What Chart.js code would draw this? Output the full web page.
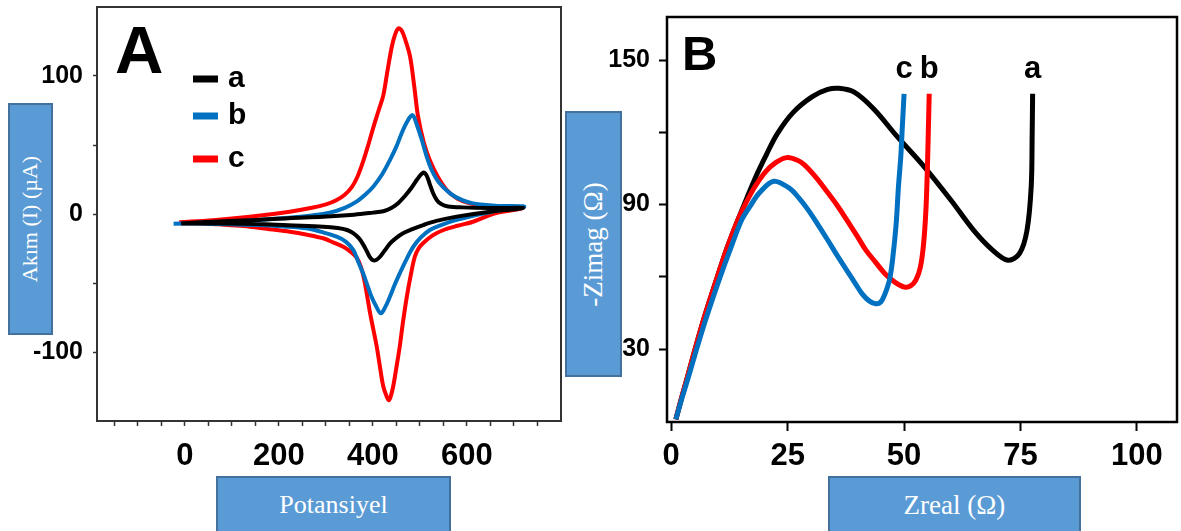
<!DOCTYPE html>
<html>
<head>
<meta charset="utf-8">
<title>CV ve EIS</title>
<script src="https://cdn.jsdelivr.net/npm/chart.js@4.4.1/dist/chart.umd.min.js"></script>
<style>
  html, body { margin: 0; padding: 0; background: #fff; }
  #stage { position: relative; width: 1181px; height: 531px; overflow: hidden; }
  canvas { position: absolute; top: 0; }
  .tag {
    position: absolute; box-sizing: border-box;
    background: #5b9bd5; border: 2px solid #41719c; color: #fff;
    font-family: "Liberation Serif", "Times New Roman", serif;
    display: flex; align-items: center; justify-content: center; white-space: nowrap;
  }
  .tag.v span { display: inline-block; transform: rotate(-90deg); }
</style>
</head>
<body>
<div id="stage">
  <div class="tag v" style="left:8px;top:103px;width:45px;height:232px;font-size:22px;"><span>Akım (I) (µA)</span></div>
  <div class="tag" style="left:216px;top:476px;width:235px;height:58px;font-size:26px;">Potansiyel</div>
  <div class="tag v" style="left:565px;top:111px;width:57px;height:266px;font-size:27px;"><span>-Zimag (Ω)</span></div>
  <div class="tag" style="left:828px;top:476px;width:253px;height:58px;font-size:27px;">Zreal (Ω)</div>
  <canvas id="cvChart" width="568" height="531" style="left:0;"></canvas>
  <canvas id="eisChart" width="611" height="531" style="left:570px;"></canvas>
</div>
<script>
// --- A: cyclic voltammograms (potential / current) ---
const cvPotA = [-8, 60, 153, 220, 294, 360, 400, 422, 440, 454, 468, 482, 495, 507, 514, 521, 528, 536, 546, 560, 590, 650, 720,
                649, 578, 535, 507, 484, 464, 449, 436, 425, 415, 407, 400, 393, 387, 379, 370, 358, 345, 325, 294, 220, 153, 60, -8];
const cvCurA = [-6.8, -5.6, -4.3, -3, -2, -0.5, 1, 2, 4.5, 8, 13, 19, 25.5, 30, 28, 21.5, 15, 10, 7, 5.5, 4.8, 4.3, 4.3,
                1.7, -1.9, -5, -8, -11, -14, -17.5, -21.5, -26.5, -31, -33.3, -33.5, -31, -27, -22, -17.5, -13.8, -11.6, -10.2, -9.2, -8.2, -7.2, -6.9, -6.8];

const cvPotB = [-24, 60, 153, 220, 270, 308, 340, 365, 385, 401, 420, 436, 450, 461, 472, 484, 494, 504, 514, 525, 540, 564, 590, 613, 660, 722,
                650, 578, 545, 521, 502, 486, 471, 457, 446, 436, 426, 417, 407, 397, 388, 379, 368, 358, 342, 323, 290, 259, 210, 153, 46, -24];
const cvCurB = [-7, -6, -4.5, -2.8, -1, 1, 4.5, 9, 14.5, 20, 29, 39, 49, 58.5, 66.5, 71.7, 64, 53.6, 42, 31.9, 23, 15, 10, 7.7, 6, 5.3,
                1.5, -4.3, -8, -11.6, -17, -23.7, -33, -43, -51.5, -60, -67.5, -72, -67, -60, -51.5, -43, -34, -26, -20, -16.4, -13, -10.4, -9, -8, -7, -7];

const cvPotC = [-12, 60, 138, 223, 270, 300, 322, 340, 355, 367, 379, 390, 401, 412, 422, 431, 440, 447, 454, 461, 469, 479, 488, 496, 508, 521, 538, 557, 580, 606, 663, 718,
                660, 613, 580, 550, 527, 507, 497, 489, 480, 472, 464, 457, 450, 443, 438, 434, 429, 422, 415, 408, 401, 394, 387, 381, 374, 366, 355, 337, 315, 294, 260, 223, 180, 138, 90, 46, -12];
const cvCurC = [-6, -4.5, -2, 1.7, 4.5, 7, 10, 14, 19.5, 27, 38, 50, 63, 75, 86, 104, 121, 130, 134.5, 133, 126, 114, 92, 70.5, 52, 39, 27, 17.4, 11, 7.7, 4.1, 4,
                0.5, -5.6, -8.5, -11.6, -15.5, -21, -25, -31, -45, -60, -78, -96, -111, -125, -132, -135, -132, -125, -111, -96, -84, -72, -58, -47, -38, -32, -28, -23.7, -20.5, -17.6, -15, -12.8, -11, -9.2, -8, -6.8, -6];

const cvXTicks = [-150, -100, -50, 0, 50, 100, 150, 200, 250, 300, 350, 400, 450, 500, 550, 600, 650, 700, 750];
const cvXLabels = [0, 200, 400, 600];
const cvYTicks = [-100, -50, 0, 50, 100];
const cvYLabels = [-100, 0, 100];

// --- B: Nyquist plots (Zreal / -Zimag) ---
const eisReA = [1, 2.2, 3.5, 5, 6.5, 8.2, 9.9, 12, 14.3, 16.3, 18.6, 20.5, 22.8, 26.2, 30.3, 33.6, 36, 39.3, 43.5, 48.4, 54.2, 60, 64.9, 69, 72.3, 74.8, 76.4, 77.3, 77.5, 77.6];
const eisImA = [0.8, 9.5, 18.4, 29, 39.2, 49.8, 59.9, 72, 83.5, 93, 103.4, 111, 119.5, 128.3, 134.8, 137.8, 138.3, 136.7, 129.7, 118.5, 106, 92, 79.4, 71.1, 66.9, 69.7, 79.4, 97.6, 118.5, 136];

const eisReB = [1, 2.2, 3.5, 5, 6.5, 8.2, 9.9, 12, 14.3, 16, 18, 20.2, 22.5, 24.8, 27, 28.6, 31, 33.6, 35.7, 37.7, 39.8, 41.8, 43.9, 45.9, 48, 50.1, 51.4, 52.5, 53.5, 54.2, 54.7, 55, 55.2, 55.4];
const eisImB = [0.8, 9.5, 18.4, 29, 39.2, 49.8, 59.9, 72, 83.5, 90.5, 97.5, 103.5, 107.5, 109.5, 108.5, 106.5, 101.5, 95, 89.5, 83.6, 77.3, 71.1, 66, 61.3, 57.8, 55.7, 56.2, 58.5, 64, 73.9, 88, 104.6, 120, 136];

const eisReC = [1, 2.3, 3.7, 5.3, 6.9, 8.7, 10.5, 12.8, 15.1, 17, 19, 22, 25.3, 27.4, 29.4, 31.5, 33.6, 35.6, 37.7, 39.4, 41, 42.5, 43.9, 45, 45.9, 46.9, 47.6, 48.3, 48.8, 49.3, 49.6, 50];
const eisImC = [0.8, 9.5, 18.4, 29, 39.2, 49.8, 59.9, 72, 83.5, 89.5, 95, 99.7, 96.9, 92.8, 87.8, 81.7, 75.3, 69, 62.7, 57.6, 52.9, 50, 48.8, 49.5, 52.9, 59, 68.3, 82, 97.6, 110, 121.3, 136];

const eisXTicks = [0, 25, 50, 75, 100];
const eisYTicks = [30, 60, 90, 120, 150];
const eisYLabels = [30, 90, 150];

const FONT = '"Liberation Sans", Arial, sans-serif';

function toPoints(xs, ys) {
    return xs.map((x, i) => ({ x: x, y: ys[i] }));
}

// full box around the plotting area
const frame = {
    id: 'frame',
    beforeDatasetsDraw(chart, args, opts) {
        const { ctx, chartArea: a } = chart;
        ctx.save();
        ctx.strokeStyle = opts.color;
        ctx.lineWidth = opts.width;
        ctx.strokeRect(a.left, a.top, a.right - a.left, a.bottom - a.top);
        ctx.restore();
    }
};

// big panel letter in the upper-left corner
const panelTag = {
    id: 'panelTag',
    afterDraw(chart, args, o) {
        const { ctx, chartArea: a } = chart;
        ctx.save();
        ctx.fillStyle = '#000';
        ctx.font = `bold ${o.size}px ${FONT}`;
        ctx.textBaseline = 'alphabetic';
        ctx.fillText(o.text, a.left + o.dx, a.top + o.dy);
        ctx.restore();
    }
};

// stacked legend: short thick line + letter
const lineKey = {
    id: 'lineKey',
    afterDatasetsDraw(chart, args, o) {
        if (!o.rows) return;
        const { ctx, chartArea: a } = chart;
        ctx.save();
        chart.data.datasets.forEach((ds, i) => {
            const y = a.top + o.rows[i];
            const x0 = a.left + o.x;
            ctx.strokeStyle = ds.borderColor;
            ctx.lineWidth = 7;
            ctx.beginPath();
            ctx.moveTo(x0, y);
            ctx.lineTo(x0 + 25, y);
            ctx.stroke();
            ctx.fillStyle = '#000';
            ctx.font = `bold 30px ${FONT}`;
            ctx.textBaseline = 'alphabetic';
            ctx.fillText(ds.label, x0 + 35, y + 8);
        });
        ctx.restore();
    }
};

// letter written just above the last point of each curve
const endTag = {
    id: 'endTag',
    afterDatasetsDraw(chart, args, o) {
        if (!o.gap) return;
        const { ctx } = chart;
        ctx.save();
        ctx.fillStyle = '#000';
        ctx.font = `bold 31px ${FONT}`;
        ctx.textAlign = 'center';
        ctx.textBaseline = 'alphabetic';
        chart.data.datasets.forEach((ds, i) => {
            const pts = chart.getDatasetMeta(i).data;
            const p = pts[pts.length - 1];
            ctx.fillText(ds.label, p.x, p.y - o.gap);
        });
        ctx.restore();
    }
};

function curve(label, xs, ys, color, order, width) {
    return {
        label: label,
        data: toPoints(xs, ys),
        borderColor: color,
        backgroundColor: color,
        borderWidth: width,
        showLine: true,
        pointRadius: 0,
        tension: 0.35,
        fill: false,
        order: order
    };
}

function axis(o) {
    return {
        type: 'linear',
        position: o.position,
        min: o.min,
        max: o.max,
        afterBuildTicks: s => { s.ticks = o.ticks.map(v => ({ value: v })); },
        afterFit: s => {
            if (o.width) s.width = o.width;
            if (o.height) s.height = o.height;
            s.paddingTop = 0; s.paddingBottom = 0; s.paddingLeft = 0; s.paddingRight = 0;
        },
        border: { display: false },
        grid: {
            drawOnChartArea: false,
            drawTicks: true,
            tickLength: o.tickLength,
            tickColor: o.tickColor,
            tickWidth: o.tickWidth
        },
        ticks: {
            autoSkip: false,
            maxRotation: 0,
            padding: o.padding,
            color: '#000',
            font: { family: FONT, size: o.fontSize, weight: 'bold' },
            callback: v => (o.labels.includes(v) ? String(v) : '')
        }
    };
}

// Panel A
new Chart(document.getElementById('cvChart'), {
    type: 'scatter',
    data: {
        datasets: [
            curve('a', cvPotA, cvCurA, '#000000', 0, 4),
            curve('b', cvPotB, cvCurB, '#0070c0', 1, 4),
            curve('c', cvPotC, cvCurC, '#ff0000', 2, 4)
        ]
    },
    options: {
        responsive: false,
        animation: false,
        layout: { padding: { left: 0, top: 7, right: 7, bottom: 0 } },
        scales: {
            x: axis({ position: 'bottom', min: -187, max: 800, ticks: cvXTicks, labels: cvXLabels,
                      height: 110, tickLength: 5, tickColor: '#333', tickWidth: 1.5, padding: 12, fontSize: 31 }),
            y: axis({ position: 'left', min: -150, max: 150, ticks: cvYTicks, labels: cvYLabels,
                      width: 97, tickLength: 4, tickColor: '#333', tickWidth: 1.5, padding: 10, fontSize: 25 })
        },
        plugins: {
            legend: { display: false },
            tooltip: { enabled: false },
            frame: { color: '#333', width: 2 },
            panelTag: { text: 'A', size: 67, dx: 18, dy: 66 },
            lineKey: { x: 96, rows: [72, 109, 152] }
        }
    },
    plugins: [frame, panelTag, lineKey]
});

// Panel B
new Chart(document.getElementById('eisChart'), {
    type: 'scatter',
    data: {
        datasets: [
            curve('a', eisReA, eisImA, '#000000', 2, 5),
            curve('b', eisReB, eisImB, '#ff0000', 1, 5),
            curve('c', eisReC, eisImC, '#0070c0', 0, 5)
        ]
    },
    options: {
        responsive: false,
        animation: false,
        layout: { padding: { left: 0, top: 17, right: 4, bottom: 0 } },
        scales: {
            x: axis({ position: 'bottom', min: -0.9, max: 108.6, ticks: eisXTicks, labels: eisXTicks,
                      height: 109, tickLength: 9, tickColor: '#000', tickWidth: 2, padding: 7, fontSize: 31 }),
            y: axis({ position: 'left', min: -0.3, max: 167.9, ticks: eisYTicks, labels: eisYLabels,
                      width: 97, tickLength: 8, tickColor: '#000', tickWidth: 2, padding: 9, fontSize: 25 })
        },
        plugins: {
            legend: { display: false },
            tooltip: { enabled: false },
            frame: { color: '#000', width: 2.5 },
            panelTag: { text: 'B', size: 49, dx: 15, dy: 53 },
            endTag: { gap: 16 }
        }
    },
    plugins: [frame, panelTag, endTag]
});
</script>
</body>
</html>
